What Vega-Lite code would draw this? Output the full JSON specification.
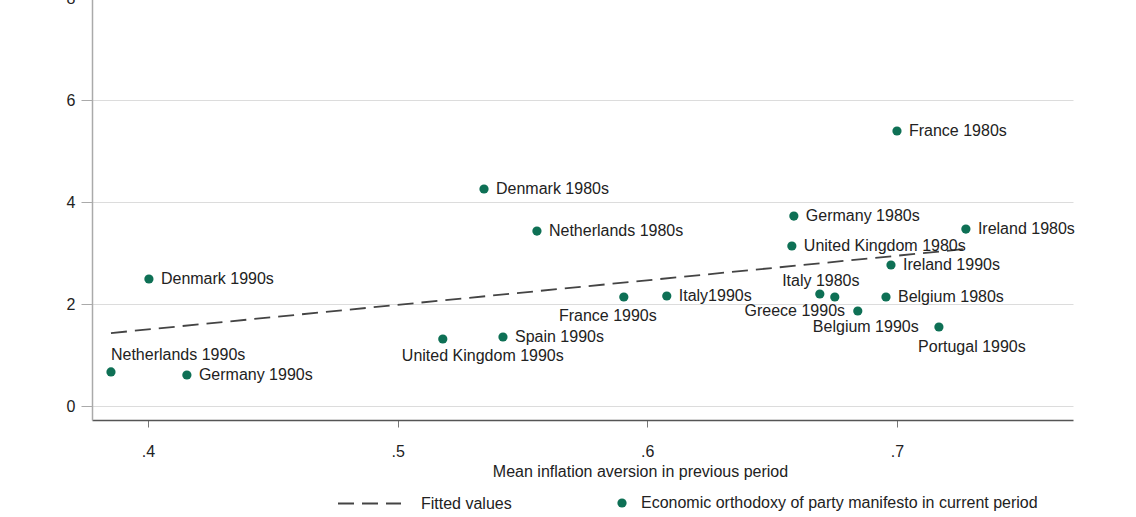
{
  "$schema": "https://vega.github.io/schema/vega-lite/v6.json",
  "width": 981,
  "height": 422,
  "autosize": "none",
  "padding": {"left": 92, "top": -2, "right": 63, "bottom": 97},
  "background": "white",
  "config": {
    "font": "Liberation Sans",
    "view": {"stroke": null},
    "text": {"font": "Liberation Sans", "fontSize": 16, "color": "#222"}
  },
  "datasets": {
    "pts": [
      {"name": "Netherlands 1990s", "x": 0.3852, "y": 0.667, "series": "Economic orthodoxy of party manifesto in current period"},
      {"name": "Germany 1990s", "x": 0.4156, "y": 0.608, "series": "Economic orthodoxy of party manifesto in current period"},
      {"name": "Denmark 1990s", "x": 0.4004, "y": 2.49, "series": "Economic orthodoxy of party manifesto in current period"},
      {"name": "United Kingdom 1990s", "x": 0.5181, "y": 1.314, "series": "Economic orthodoxy of party manifesto in current period"},
      {"name": "Spain 1990s", "x": 0.5422, "y": 1.353, "series": "Economic orthodoxy of party manifesto in current period"},
      {"name": "Denmark 1980s", "x": 0.5346, "y": 4.255, "series": "Economic orthodoxy of party manifesto in current period"},
      {"name": "Netherlands 1980s", "x": 0.5558, "y": 3.431, "series": "Economic orthodoxy of party manifesto in current period"},
      {"name": "France 1990s", "x": 0.5906, "y": 2.137, "series": "Economic orthodoxy of party manifesto in current period"},
      {"name": "Italy1990s", "x": 0.6078, "y": 2.157, "series": "Economic orthodoxy of party manifesto in current period"},
      {"name": "Germany 1980s", "x": 0.6587, "y": 3.725, "series": "Economic orthodoxy of party manifesto in current period"},
      {"name": "United Kingdom 1980s", "x": 0.6579, "y": 3.137, "series": "Economic orthodoxy of party manifesto in current period"},
      {"name": "Italy 1980s", "x": 0.6691, "y": 2.196, "series": "Economic orthodoxy of party manifesto in current period"},
      {"name": "Greece 1990s", "x": 0.6751, "y": 2.137, "series": "Economic orthodoxy of party manifesto in current period"},
      {"name": "Belgium 1990s", "x": 0.6843, "y": 1.863, "series": "Economic orthodoxy of party manifesto in current period"},
      {"name": "Belgium 1980s", "x": 0.6956, "y": 2.137, "series": "Economic orthodoxy of party manifesto in current period"},
      {"name": "Portugal 1990s", "x": 0.7168, "y": 1.549, "series": "Economic orthodoxy of party manifesto in current period"},
      {"name": "France 1980s", "x": 0.7000, "y": 5.392, "series": "Economic orthodoxy of party manifesto in current period"},
      {"name": "Ireland 1980s", "x": 0.7276, "y": 3.47, "series": "Economic orthodoxy of party manifesto in current period"},
      {"name": "Ireland 1990s", "x": 0.6976, "y": 2.765, "series": "Economic orthodoxy of party manifesto in current period"}
    ],
    "fit": [
      {"x": 0.3852, "y": 1.43, "series": "Fitted values"},
      {"x": 0.7276, "y": 3.08, "series": "Fitted values"}
    ]
  },
  "encoding": {
    "x": {
      "field": "x", "type": "quantitative",
      "scale": {"domain": [0.3776, 0.7705], "nice": false, "zero": false},
      "axis": {
        "title": "Mean inflation aversion in previous period",
        "titleX": 548,
        "values": [0.4, 0.5, 0.6, 0.7],
        "labelExpr": "substring(format(datum.value, '.1f'), 1)",
        "grid": false,
        "domainColor": "#555", "domainWidth": 1.5,
        "tickColor": "#777", "tickSize": 7,
        "labelFontSize": 16, "labelColor": "#222", "labelPadding": 16,
        "titleFontSize": 16, "titleFontWeight": "normal", "titleColor": "#222", "titlePadding": 4
      }
    },
    "y": {
      "field": "y", "type": "quantitative",
      "scale": {"domain": [-0.2745, 8], "nice": false, "zero": false},
      "axis": {
        "title": null,
        "values": [0, 2, 4, 6, 8],
        "grid": true, "gridColor": "#dcdcdc",
        "domainColor": "#aaa", "domainWidth": 1.5,
        "tickColor": "#aaa", "tickSize": 11,
        "labelFontSize": 16, "labelColor": "#222", "labelPadding": 6
      }
    }
  },
  "layer": [
    {
      "data": {"name": "fit"},
      "mark": {"type": "line", "color": "#444", "strokeWidth": 1.8},
      "encoding": {
        "strokeDash": {
          "field": "series", "type": "nominal",
          "scale": {"domain": ["Fitted values"], "range": [[16, 8]]},
          "legend": {
            "title": null, "orient": "none", "legendX": 245, "legendY": 473,
            "symbolType": "stroke", "symbolSize": 3969, "symbolStrokeWidth": 1.8,
            "symbolStrokeColor": "#444", "labelFontSize": 16, "labelColor": "#222",
            "labelOffset": 19, "padding": 0, "labelLimit": 400
          }
        }
      }
    },
    {
      "data": {"name": "pts"},
      "mark": {"type": "point", "filled": true, "size": 85, "opacity": 1, "shape": "circle"},
      "encoding": {
        "color": {
          "field": "series", "type": "nominal",
          "scale": {"range": ["#0e7055"]},
          "legend": {
            "title": null, "orient": "none", "legendX": 522, "legendY": 497,
            "symbolType": "circle", "symbolSize": 85, "symbolOpacity": 1,
            "labelFontSize": 16, "labelColor": "#222", "labelOffset": 11, "padding": 0,
            "labelLimit": 600
          }
        }
      }
    },
    {
      "data": {"name": "pts"},
      "transform": [{"filter": {"field": "name", "oneOf": ["Germany 1990s", "Denmark 1990s", "Spain 1990s", "Denmark 1980s", "Netherlands 1980s", "Italy1990s", "Germany 1980s", "United Kingdom 1980s", "Belgium 1980s", "France 1980s", "Ireland 1980s", "Ireland 1990s"]}}],
      "mark": {"type": "text", "align": "left", "baseline": "middle", "dx": 12},
      "encoding": {"text": {"field": "name"}}
    },
    {
      "data": {"name": "pts"},
      "transform": [{"filter": {"field": "name", "equal": "Netherlands 1990s"}}],
      "mark": {"type": "text", "align": "left", "baseline": "middle", "dx": 0, "dy": -17},
      "encoding": {"text": {"field": "name"}}
    },
    {
      "data": {"name": "pts"},
      "transform": [{"filter": {"field": "name", "equal": "United Kingdom 1990s"}}],
      "mark": {"type": "text", "align": "center", "baseline": "middle", "dx": 40, "dy": 17},
      "encoding": {"text": {"field": "name"}}
    },
    {
      "data": {"name": "pts"},
      "transform": [{"filter": {"field": "name", "equal": "France 1990s"}}],
      "mark": {"type": "text", "align": "center", "baseline": "middle", "dx": -16, "dy": 19},
      "encoding": {"text": {"field": "name"}}
    },
    {
      "data": {"name": "pts"},
      "transform": [{"filter": {"field": "name", "equal": "Italy 1980s"}}],
      "mark": {"type": "text", "align": "center", "baseline": "middle", "dx": 1, "dy": -13},
      "encoding": {"text": {"field": "name"}}
    },
    {
      "data": {"name": "pts"},
      "transform": [{"filter": {"field": "name", "equal": "Greece 1990s"}}],
      "mark": {"type": "text", "align": "center", "baseline": "middle", "dx": -40, "dy": 14},
      "encoding": {"text": {"field": "name"}}
    },
    {
      "data": {"name": "pts"},
      "transform": [{"filter": {"field": "name", "equal": "Belgium 1990s"}}],
      "mark": {"type": "text", "align": "center", "baseline": "middle", "dx": 8, "dy": 16},
      "encoding": {"text": {"field": "name"}}
    },
    {
      "data": {"name": "pts"},
      "transform": [{"filter": {"field": "name", "equal": "Portugal 1990s"}}],
      "mark": {"type": "text", "align": "center", "baseline": "middle", "dx": 33, "dy": 20},
      "encoding": {"text": {"field": "name"}}
    }
  ]
}
